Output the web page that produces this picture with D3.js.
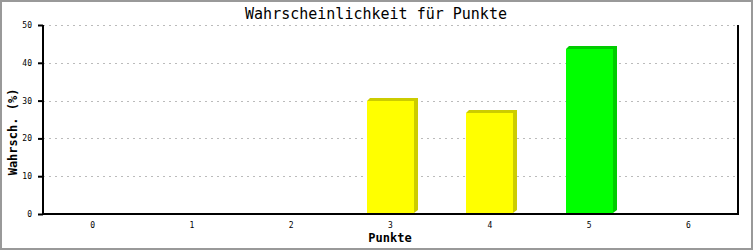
<!DOCTYPE html>
<html>
<head>
<meta charset="utf-8">
<script src="https://cdn.jsdelivr.net/npm/d3@7"></script>
<style>
  body { margin: 0; background: #fff; }
  svg { display: block; }
</style>
</head>
<body>
<script>
// chart data
var punkte = ["0", "1", "2", "3", "4", "5", "6"];
var wahrsch = [0, 0, 0, 29.8, 26.6, 43.6, 0];
var barColors = ["#ffff00", "#ffff00", "#ffff00", "#ffff00", "#ffff00", "#00ff00", "#ffff00"];
var shadeColors = ["#cccc00", "#cccc00", "#cccc00", "#cccc00", "#cccc00", "#00cc00", "#cccc00"];
var yTicks = [0, 10, 20, 30, 40, 50];

var W = 753, H = 250;
var pLeft = 43, pRight = 738, pTop = 25, pBottom = 214;
var mono = "'DejaVu Sans Mono', monospace";

var svg = d3.select("body").append("svg")
  .attr("width", W)
  .attr("height", H);

// outer frame
svg.append("rect")
  .attr("x", 1).attr("y", 1)
  .attr("width", W - 2).attr("height", H - 2)
  .attr("fill", "#fff")
  .attr("stroke", "#999")
  .attr("stroke-width", 2);

var x = d3.scaleBand().domain(punkte).range([pLeft, pRight]);
var y = d3.scaleLinear().domain([0, 50]).range([pBottom, pTop]);

// dashed grid
svg.selectAll("line.grid")
  .data(yTicks.slice(1))
  .enter()
  .append("line")
  .attr("class", "grid")
  .attr("x1", pLeft).attr("x2", pRight)
  .attr("y1", function(d) { return Math.round(y(d)) + 0.5; })
  .attr("y2", function(d) { return Math.round(y(d)) + 0.5; })
  .attr("stroke", "#bbb")
  .attr("stroke-dasharray", "2,4");

// bars with a little 3d shading
var bw = 47, dx = 4, dy = 3;
var bars = svg.selectAll("g.bar")
  .data(punkte.map(function(p, i) { return {p: p, v: wahrsch[i], i: i}; }).filter(function(d) { return d.v > 0; }))
  .enter()
  .append("g")
  .attr("class", "bar");

bars.append("polygon")
  .attr("points", function(d) {
    var x0 = Math.round(x(d.p) + x.bandwidth() / 2 - bw / 2), x1 = x0 + bw;
    var t = Math.round(y(d.v)), b = pBottom - 1;
    return [[x0, t], [x0 + dy, t - dy], [x1 + dx, t - dy], [x1 + dx, b - dy], [x1, b]].join(" ");
  })
  .attr("fill", function(d) { return shadeColors[d.i]; });

bars.append("rect")
  .attr("x", function(d) { return Math.round(x(d.p) + x.bandwidth() / 2 - bw / 2); })
  .attr("y", function(d) { return Math.round(y(d.v)); })
  .attr("width", bw)
  .attr("height", function(d) { return pBottom - 1 - Math.round(y(d.v)); })
  .attr("fill", function(d) { return barColors[d.i]; });

// axis lines
svg.append("path")
  .attr("d", "M" + pLeft + "," + pTop + "V" + pBottom + "H" + pRight + "V" + pTop)
  .attr("fill", "none")
  .attr("stroke", "#000")
  .attr("stroke-width", 2);

// y axis
var yAxis = svg.append("g")
  .attr("transform", "translate(" + pLeft + ",0)")
  .call(d3.axisLeft(y).tickValues(yTicks).tickSize(5).tickPadding(6));
yAxis.select(".domain").remove();
yAxis.selectAll(".tick line").attr("stroke", "#000").attr("stroke-width", 2);
yAxis.selectAll(".tick text")
  .attr("font-family", mono).attr("font-size", 8).attr("fill", "#000");

// x labels
var xAxis = svg.append("g")
  .attr("transform", "translate(0," + pBottom + ")")
  .call(d3.axisBottom(x).tickSize(0).tickPadding(8));
xAxis.select(".domain").remove();
xAxis.selectAll(".tick text")
  .attr("font-family", mono).attr("font-size", 8).attr("fill", "#000");

// titles
svg.append("text")
  .attr("x", 376).attr("y", 19)
  .attr("text-anchor", "middle")
  .attr("font-family", mono).attr("font-size", 15)
  .text("Wahrscheinlichkeit für Punkte");

svg.append("text")
  .attr("x", 390).attr("y", 242)
  .attr("text-anchor", "middle")
  .attr("font-family", mono).attr("font-size", 12).attr("font-weight", "bold")
  .text("Punkte");

svg.append("text")
  .attr("transform", "translate(17,132) rotate(-90)")
  .attr("text-anchor", "middle")
  .attr("font-family", mono).attr("font-size", 12).attr("font-weight", "bold")
  .text("Wahrsch. (%)");
</script>
</body>
</html>
